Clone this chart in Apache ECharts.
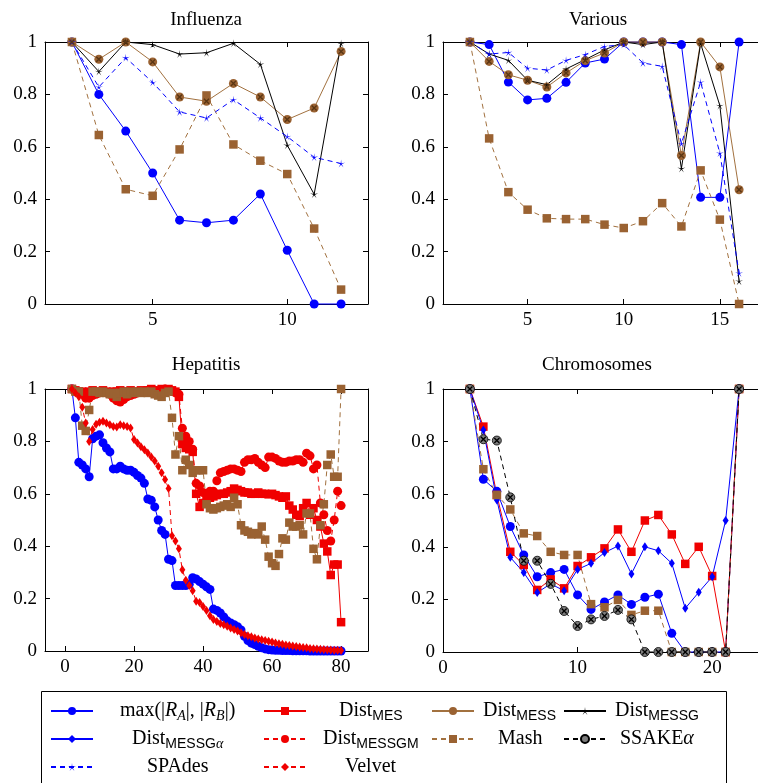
<!DOCTYPE html>
<html>
<head>
<meta charset="utf-8">
<script src="https://cdn.jsdelivr.net/npm/echarts@6/dist/echarts.min.js"></script>
<style>
  * { margin: 0; padding: 0; }
  body { background: #fff; }
</style>
</head>
<body>
<!-- four panels and one shared legend -->
<div id="main" style="width: 758px;height: 783px;"></div>
<script>
// ---------- data ----------
var influenzaX      = [2, 3, 4, 5, 6, 7, 8, 9, 10, 11, 12];
var influenzaMax    = [1, 0.80, 0.66, 0.50, 0.32, 0.31, 0.32, 0.42, 0.205, 0, 0];
var influenzaMESS   = [1, 0.934, 1, 0.924, 0.79, 0.774, 0.842, 0.79, 0.704, 0.748, 0.964];
var influenzaMESSG  = [1, 0.887, 1, 0.99, 0.954, 0.959, 0.995, 0.915, 0.606, 0.419, 0.994];
var influenzaSPAdes = [1, 0.828, 0.94, 0.846, 0.733, 0.71, 0.78, 0.71, 0.639, 0.56, 0.536];
var influenzaMash   = [1, 0.645, 0.438, 0.413, 0.59, 0.796, 0.609, 0.547, 0.496, 0.288, 0.055];

var variousX      = [2, 3, 4, 5, 6, 7, 8, 9, 10, 11, 12, 13, 14, 15, 16];
var variousMax    = [1, 0.99, 0.847, 0.779, 0.785, 0.846, 0.92, 0.935, 1, 1, 1, 0.99, 0.407, 0.407, 1];
var variousMESS   = [1, 0.926, 0.875, 0.854, 0.828, 0.882, 0.929, 0.958, 1, 1, 1, 0.567, 1, 0.905, 0.436];
var variousMESSG  = [1, 0.954, 0.93, 0.854, 0.837, 0.897, 0.933, 0.97, 1, 0.99, 1, 0.517, 0.994, 0.757, 0.087];
var variousSPAdes = [1, 0.954, 0.96, 0.9, 0.893, 0.93, 0.952, 0.983, 0.99, 0.92, 0.907, 0.612, 0.847, 0.576, 0.118];
var variousMash   = [1, 0.632, 0.427, 0.36, 0.327, 0.324, 0.324, 0.303, 0.29, 0.316, 0.385, 0.296, 0.51, 0.322, 0];

var hepatitisX = [2, 3, 4, 5, 6, 7, 8, 9, 10, 11, 12, 13, 14, 15, 16, 17, 18, 19, 20, 21,
  22, 23, 24, 25, 26, 27, 28, 29, 30, 31, 32, 33, 34, 35, 36, 37, 38, 39, 40, 41,
  42, 43, 44, 45, 46, 47, 48, 49, 50, 51, 52, 53, 54, 55, 56, 57, 58, 59, 60, 61,
  62, 63, 64, 65, 66, 67, 68, 69, 70, 71, 72, 73, 74, 75, 76, 77, 78, 79, 80];
var hepatitisMax = [1, 0.89, 0.72, 0.71, 0.695, 0.665, 0.81, 0.82, 0.825, 0.795,
  0.775, 0.76, 0.695, 0.695, 0.705, 0.695, 0.69, 0.69, 0.682, 0.67,
  0.66, 0.64, 0.58, 0.575, 0.55, 0.5, 0.46, 0.445, 0.35, 0.345,
  0.25, 0.25, 0.25, 0.25, 0.255, 0.28, 0.275, 0.265, 0.255, 0.245,
  0.235, 0.16, 0.155, 0.145, 0.13, 0.115, 0.107, 0.1, 0.093, 0.08,
  0.056, 0.04, 0.03, 0.025, 0.018, 0.012, 0.008, 0.005, 0.004,
  0.003, 0.003, 0.002, 0.002, 0.002, 0.001, 0.001, 0.001, 0.001, 0.001,
  0, 0, 0, 0, 0, 0, 0, 0, 0, 0];
var hepatitisMES = [1, 0.995, 0.99, 0.99, 0.985, 0.99, 0.995, 0.99, 0.99, 0.995,
  0.99, 0.985, 0.99, 0.99, 0.995, 0.99, 0.99, 0.995, 0.99, 0.99,
  0.995, 0.99, 0.995, 1, 0.995, 0.99, 1, 0.995, 1, 0.995, 0.99,
  0.97, 0.79, 0.775, 0.77, 0.76, 0.6, 0.55, 0.565, 0.575, 0.585,
  0.59, 0.595, 0.6, 0.6, 0.605, 0.61, 0.62, 0.615, 0.61, 0.605,
  0.605, 0.6, 0.6, 0.605, 0.6, 0.6, 0.598, 0.6, 0.595, 0.59,
  0.585, 0.59, 0.555, 0.54, 0.52, 0.515, 0.545, 0.565, 0.52, 0.545,
  0.5, 0.475, 0.41, 0.38, 0.29, 0.33, 0.33, 0.11];
var hepatitisMESSGM = [1, 0.99, 0.985, 0.98, 0.965, 0.965, 0.975, 0.98, 0.985, 0.99,
  0.985, 0.98, 0.965, 0.955, 0.95, 0.96, 0.97, 0.975, 0.98, 0.985,
  0.99, 0.99, 0.995, 0.99, 0.995, 0.99, 0.995, 1, 0.995, 0.99, 0.985, 0.98,
  0.85, 0.82, 0.80, 0.77, 0.64, 0.63, 0.605, 0.6, 0.61, 0.61,
  0.65, 0.68, 0.685, 0.69, 0.695, 0.695, 0.69, 0.685, 0.72, 0.73,
  0.73, 0.735, 0.72, 0.71, 0.7, 0.74, 0.74, 0.735, 0.725, 0.72,
  0.72, 0.725, 0.725, 0.73, 0.73, 0.72, 0.755, 0.745, 0.695, 0.71,
  0.565, 0.52, 0.46, 0.42, 0.5, 0.61, 0.555];
var hepatitisMash = [1, 0.99, 0.99, 0.86, 0.84, 0.92, 0.99, 0.99, 0.985, 0.99,
  0.985, 0.98, 0.985, 0.97, 0.985, 0.99, 0.98, 0.99, 0.985, 0.99,
  0.985, 0.99, 0.985, 0.99, 0.98, 0.975, 0.97, 0.985, 0.99, 0.89,
  0.75, 0.82, 0.69, 0.73, 0.71, 0.68, 0.69, 0.69, 0.69, 0.56,
  0.545, 0.54, 0.545, 0.55, 0.555, 0.56, 0.55, 0.585, 0.56, 0.48,
  0.46, 0.455, 0.445, 0.45, 0.445, 0.475, 0.425, 0.36, 0.335, 0.325,
  0.37, 0.43, 0.425, 0.49, 0.475, 0.475, 0.48, 0.445, 0.525, 0.525,
  0.39, 0.35, 0.48, 0.56, 0.71, 0.75, 0.665, 0.665, 1];
var hepatitisVelvet = [1, 0.985, 0.97, 0.93, 0.87, 0.80, 0.845, 0.865, 0.873, 0.877,
  0.87, 0.864, 0.857, 0.855, 0.864, 0.86, 0.857, 0.851, 0.807, 0.794,
  0.78, 0.768, 0.756, 0.74, 0.725, 0.705, 0.68, 0.655, 0.62, 0.44,
  0.42, 0.39, 0.31, 0.27, 0.25, 0.23, 0.19, 0.185, 0.17, 0.155,
  0.135, 0.12, 0.113, 0.105, 0.1, 0.094, 0.088, 0.082, 0.076, 0.07,
  0.063, 0.058, 0.054, 0.05, 0.046, 0.043, 0.04, 0.037, 0.034, 0.031,
  0.028, 0.026, 0.023, 0.021, 0.019, 0.017, 0.015, 0.013, 0.012, 0.01,
  0.009, 0.008, 0.007, 0.006, 0.005, 0.004, 0.003, 0.003, 0.002];

var chromosomesX      = [2, 3, 4, 5, 6, 7, 8, 9, 10, 11, 12, 13, 14, 15, 16, 17, 18, 19, 20, 21, 22];
var chromosomesMax    = [1, 0.657, 0.611, 0.477, 0.369, 0.286, 0.302, 0.314, 0.217, 0.162, 0.19, 0.217, 0.181, 0.208, 0.22, 0.071, 0, 0, 0, 0, 1];
var chromosomesMES    = [1, 0.857, 0.597, 0.381, 0.331, 0.236, 0.276, 0.242, 0.327, 0.36, 0.394, 0.466, 0.381, 0.5, 0.521, 0.447, 0.335, 0.4, 0.289, 0, 1];
var chromosomesMESSGa = [1, 0.844, 0.578, 0.36, 0.302, 0.226, 0.259, 0.233, 0.314, 0.337, 0.378, 0.403, 0.297, 0.4, 0.385, 0.337, 0.166, 0.227, 0.286, 0.5, 1];
var chromosomesMash   = [1, 0.695, 0.597, 0.542, 0.451, 0.441, 0.381, 0.369, 0.369, 0.182, 0.17, 0.198, 0.141, 0.157, 0.157, 0, 0, 0, 0, 0, 1];
var chromosomesSSAKE  = [1, 0.809, 0.804, 0.588, 0.347, 0.347, 0.259, 0.156, 0.099, 0.124, 0.137, 0.16, 0.124, 0, 0, 0, 0, 0, 0, 0, 1];

// tick labels
var influenzaTicks   = [5, 10];
var variousTicks     = [5, 10, 15];
var hepatitisTicks   = [0, 20, 40, 60, 80];
var chromosomesTicks = [0, 10, 20];

// ---------- looks ----------
var SERIF = 'Liberation Serif';
var BLUE = '#0000ff', RED = '#f00000', BROWN = '#9a6232', BROWN_LINE = '#a2713f';
var DASH = [5, 4];

function starPath() {
  var pts = [];
  for (var k = 0; k < 10; k++) {
    var r = k % 2 === 0 ? 10 : 1.7;
    var a = (-90 + 36 * k) * Math.PI / 180;
    pts.push((10 + r * Math.cos(a)).toFixed(2) + ',' + (10 + r * Math.sin(a)).toFixed(2));
  }
  return 'path://M' + pts.join(' L') + ' Z';
}
var STAR = starPath();
var CROSS = 'path://M1.6,0 L10,8.4 L8.4,10 L0,1.6 Z M8.4,0 L10,1.6 L1.6,10 L0,8.4 Z';

var look = {
  max:    {line: BLUE, fill: BLUE, symbol: 'circle', size: 9, dash: 'solid'},
  MES:    {line: RED, fill: RED, symbol: 'rect', size: 8.5, dash: 'solid'},
  MESS:   {line: BROWN_LINE, fill: BROWN, symbol: 'circle', size: 9, dash: 'solid', cross: '#5a3614'},
  MESSG:  {line: '#000', fill: '#000', symbol: STAR, size: 8, dash: 'solid'},
  MESSGa: {line: BLUE, fill: BLUE, symbol: 'diamond', size: [6, 9], dash: 'solid'},
  MESSGM: {line: RED, fill: RED, symbol: 'circle', size: 9, dash: DASH},
  Mash:   {line: BROWN_LINE, fill: BROWN, symbol: 'rect', size: 8.5, dash: DASH},
  SSAKE:  {line: '#000', fill: '#7d7d7d', border: '#000', symbol: 'circle', size: 9, dash: DASH, cross: '#000'},
  SPAdes: {line: BLUE, fill: BLUE, symbol: STAR, size: 8, dash: DASH},
  Velvet: {line: RED, fill: RED, symbol: 'diamond', size: [6, 9], dash: DASH}
};

var legendLabel = {
  max: 'max(|{i|R}{si|A}|, |{i|R}{si|B}|)',
  MES: 'Dist{s|MES}',
  MESS: 'Dist{s|MESS}',
  MESSG: 'Dist{s|MESSG}',
  MESSGa: 'Dist{s|MESSG}{si|α}',
  MESSGM: 'Dist{s|MESSGM}',
  Mash: 'Mash',
  SSAKE: 'SSAKE{i|α}',
  SPAdes: 'SPAdes',
  Velvet: 'Velvet'
};
var rich = {
  i:  {fontFamily: SERIF, fontStyle: 'italic', fontSize: 20, lineHeight: 24},
  s:  {fontFamily: 'Liberation Sans', fontSize: 14, verticalAlign: 'top', padding: [10, 0, 0, 0]},
  si: {fontFamily: SERIF, fontStyle: 'italic', fontSize: 14, verticalAlign: 'top', padding: [10, 0, 0, 0]}
};
var richFont = {
  '': '20px "Liberation Serif"',
  i: 'italic 20px "Liberation Serif"',
  s: '14px "Liberation Sans"',
  si: 'italic 14px "Liberation Serif"'
};
var measureCtx = document.createElement('canvas').getContext('2d');
function richWidth(str) {
  var re = /\{(\w+)\|([^}]*)\}|([^{]+)/g, m, w = 0;
  while ((m = re.exec(str))) {
    measureCtx.font = m[1] ? richFont[m[1]] : richFont[''];
    w += measureCtx.measureText(m[1] ? m[2] : m[3]).width;
  }
  return w;
}

// ---------- panels ----------
var panels = [
  {title: 'Influenza', titleX: 206, titleY: 11, left: 45, top: 42, h: 262, min: 1, max: 13, ticks: influenzaTicks},
  {title: 'Various', titleX: 598, titleY: 11, left: 443, top: 42, h: 262, min: 0.6, max: 17.4, ticks: variousTicks},
  {title: 'Hepatitis', titleX: 206, titleY: 356, left: 45, top: 389, h: 262, min: -5.8, max: 87.8, ticks: hepatitisTicks},
  {title: 'Chromosomes', titleX: 597, titleY: 356, left: 443, top: 389, h: 263, min: 0, max: 24, ticks: chromosomesTicks}
];

var lines = [
  [0, 'max', influenzaX, influenzaMax], [0, 'MESS', influenzaX, influenzaMESS],
  [0, 'MESSG', influenzaX, influenzaMESSG], [0, 'Mash', influenzaX, influenzaMash],
  [0, 'SPAdes', influenzaX, influenzaSPAdes],
  [1, 'max', variousX, variousMax], [1, 'MESS', variousX, variousMESS],
  [1, 'MESSG', variousX, variousMESSG], [1, 'Mash', variousX, variousMash],
  [1, 'SPAdes', variousX, variousSPAdes],
  [2, 'max', hepatitisX, hepatitisMax], [2, 'MES', hepatitisX, hepatitisMES],
  [2, 'MESSGM', hepatitisX, hepatitisMESSGM], [2, 'Mash', hepatitisX, hepatitisMash],
  [2, 'Velvet', hepatitisX, hepatitisVelvet],
  [3, 'max', chromosomesX, chromosomesMax], [3, 'MES', chromosomesX, chromosomesMES],
  [3, 'MESSGa', chromosomesX, chromosomesMESSGa], [3, 'Mash', chromosomesX, chromosomesMash],
  [3, 'SSAKE', chromosomesX, chromosomesSSAKE]
];

var grids = [], xAxes = [], yAxes = [], titles = [], series = [];

panels.forEach(function (p, g) {
  grids.push({left: p.left, top: p.top, width: 323, height: p.h, show: false, outerBoundsMode: 'none'});
  titles.push({text: p.title, left: p.titleX, top: p.titleY, textAlign: 'center', padding: 0,
    textStyle: {fontFamily: SERIF, fontSize: 19, fontWeight: 'normal', color: '#000'}});
  ['bottom', 'top'].forEach(function (pos) {
    xAxes.push({
      type: 'value', gridIndex: g, position: pos, min: p.min, max: p.max,
      axisLine: {show: true, onZero: false, lineStyle: {color: '#000', width: 1}},
      axisTick: {show: true, inside: true, length: 5, customValues: p.ticks, lineStyle: {color: '#000'}},
      axisLabel: {show: pos === 'bottom', customValues: p.ticks, margin: 7, showMinLabel: true, showMaxLabel: true, color: '#000', fontFamily: SERIF, fontSize: 19},
      splitLine: {show: false}
    });
  });
  ['left', 'right'].forEach(function (pos) {
    yAxes.push({
      type: 'value', gridIndex: g, position: pos, min: 0, max: 1, interval: 0.2,
      axisLine: {show: true, onZero: false, lineStyle: {color: '#000', width: 1}},
      axisTick: {show: true, inside: true, length: 5, lineStyle: {color: '#000'}},
      axisLabel: {show: pos === 'left', margin: 8, color: '#000', fontFamily: SERIF, fontSize: 19},
      splitLine: {show: false}
    });
  });
});

lines.forEach(function (l) {
  var g = l[0], st = look[l[1]];
  var pts = l[2].map(function (x, i) { return [x, l[3][i]]; });
  series.push({
    name: l[1], type: 'line', xAxisIndex: g * 2, yAxisIndex: g * 2, data: pts,
    symbol: st.symbol, symbolSize: st.size, showSymbol: true, clip: false, z: 2,
    lineStyle: {color: st.line, width: 1, type: st.dash},
    itemStyle: {color: st.fill, borderColor: st.border || st.fill, borderWidth: st.border ? 0.8 : 0},
    emphasis: {disabled: true}
  });
  if (st.cross) {
    // the little x drawn inside the circle marks
    series.push({
      name: l[1] + '-x', type: 'scatter', xAxisIndex: g * 2, yAxisIndex: g * 2, data: pts,
      symbol: CROSS, symbolSize: 6, clip: false, silent: true, z: 3,
      itemStyle: {color: st.cross, opacity: 1}, emphasis: {disabled: true}
    });
  }
});

// ---------- legend (one component per entry so each cell sits where it should) ----------
var legendCols = [50, 263, 431, 563];
var legendCenters = [177, 370, 519, 656];
var legendRows = [711, 739, 767];
var legendCells = [['max', 0, 0], ['MES', 1, 0], ['MESS', 2, 0], ['MESSG', 3, 0],
  ['MESSGa', 0, 1], ['MESSGM', 1, 1], ['Mash', 2, 1], ['SSAKE', 3, 1],
  ['SPAdes', 0, 2], ['Velvet', 1, 2]];

var legends = legendCells.map(function (c) {
  var x0 = legendCols[c[1]];
  var w = richWidth(legendLabel[c[0]]);
  var pad = Math.max(0, Math.round(legendCenters[c[1]] - w / 2 - (x0 + 42 + 5)));
  return {
    data: [c[0]], left: x0, top: legendRows[c[2]] - 12, padding: 0,
    itemWidth: 42, itemHeight: 10, selectedMode: false,
    formatter: function (name) { return legendLabel[name]; },
    textStyle: {color: '#000', fontFamily: SERIF, fontSize: 20, lineHeight: 24, padding: [0, 0, 0, pad], rich: rich}
  };
});

var mycharts = echarts.init(document.getElementById('main'));
var option = {
  animation: false,
  backgroundColor: '#fff',
  title: titles,
  grid: grids,
  xAxis: xAxes,
  yAxis: yAxes,
  legend: legends,
  graphic: [{
    type: 'rect', shape: {x: 41.5, y: 691.5, width: 685, height: 120},
    style: {fill: 'none', stroke: '#000', lineWidth: 1}, silent: true
  }],
  series: series
};
mycharts.setOption(option);
</script>
</body>
</html>
